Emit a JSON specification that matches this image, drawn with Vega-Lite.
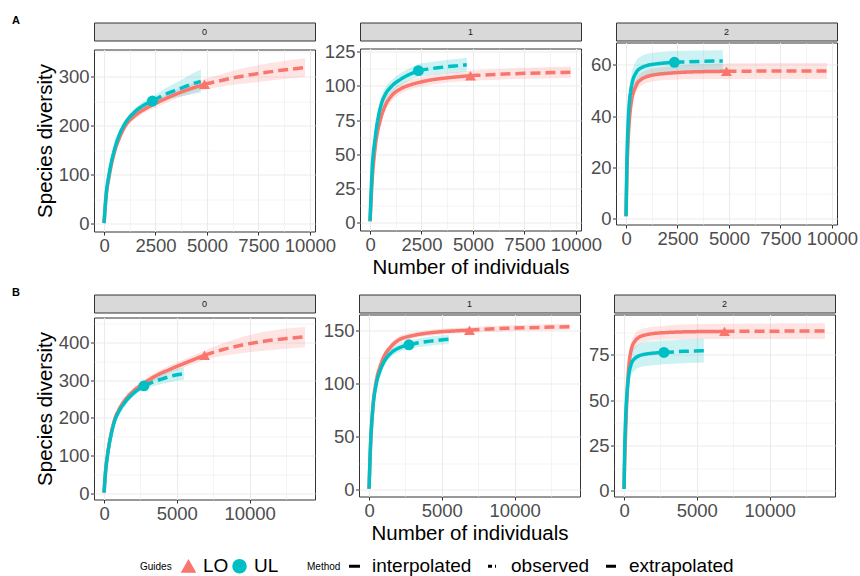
{
 "$schema": "https://vega.github.io/schema/vega-lite/v6.json",
 "autosize": {"type": "pad"},
 "padding": {"left": 12, "top": 14.5, "right": 5, "bottom": 0},
 "background": "white",
 "config": {
  "font": "Liberation Sans",
  "view": {"stroke": "#333333", "strokeWidth": 1},
  "axis": {"gridColor": "#EBEBEB", "domain": false, "tickColor": "#333333", "tickSize": 3.5, "tickWidth": 1, "labelColor": "#4D4D4D", "labelFontSize": 18.5, "labelPadding": 1.5, "titleFontSize": 20.5, "titleColor": "#000000", "titleFontWeight": "normal", "labelFlush": false, "labelOverlap": false, "titlePadding": 3},
  "axisX": {"titlePadding": 3},
  "legend": {"labelFontSize": 19, "labelColor": "#000000", "titleFontSize": 10, "titleFontWeight": "normal", "titleColor": "#000000", "symbolOpacity": 1},
  "title": {"fontSize": 11, "fontWeight": "bold", "color": "#000000"}
 },
 "datasets": {
  "curves": [
   {"row":"A","q":0,"Guides":"LO","Method":"interpolated","n":1,"est":1,"lo":1,"hi":1},
   {"row":"A","q":0,"Guides":"LO","Method":"interpolated","n":100,"est":55,"lo":52,"hi":58},
   {"row":"A","q":0,"Guides":"LO","Method":"interpolated","n":250,"est":97,"lo":93,"hi":101},
   {"row":"A","q":0,"Guides":"LO","Method":"interpolated","n":500,"est":145,"lo":140,"hi":150},
   {"row":"A","q":0,"Guides":"LO","Method":"interpolated","n":750,"est":175,"lo":169,"hi":181},
   {"row":"A","q":0,"Guides":"LO","Method":"interpolated","n":1000,"est":197,"lo":191,"hi":203},
   {"row":"A","q":0,"Guides":"LO","Method":"interpolated","n":1500,"est":220,"lo":213,"hi":227},
   {"row":"A","q":0,"Guides":"LO","Method":"interpolated","n":2000,"est":234,"lo":227,"hi":241},
   {"row":"A","q":0,"Guides":"LO","Method":"interpolated","n":2500,"est":245,"lo":237,"hi":253},
   {"row":"A","q":0,"Guides":"LO","Method":"interpolated","n":3000,"est":255,"lo":246,"hi":264},
   {"row":"A","q":0,"Guides":"LO","Method":"interpolated","n":3500,"est":264,"lo":255,"hi":273},
   {"row":"A","q":0,"Guides":"LO","Method":"interpolated","n":4000,"est":272,"lo":262,"hi":282},
   {"row":"A","q":0,"Guides":"LO","Method":"interpolated","n":4500,"est":279,"lo":269,"hi":289},
   {"row":"A","q":0,"Guides":"LO","Method":"interpolated","n":4880,"est":284,"lo":273,"hi":295},
   {"row":"A","q":0,"Guides":"LO","Method":"extrapolated","n":4880,"est":284,"lo":273,"hi":295},
   {"row":"A","q":0,"Guides":"LO","Method":"extrapolated","n":5500,"est":290,"lo":278,"hi":302},
   {"row":"A","q":0,"Guides":"LO","Method":"extrapolated","n":6500,"est":299,"lo":284,"hi":314},
   {"row":"A","q":0,"Guides":"LO","Method":"extrapolated","n":7500,"est":306,"lo":289,"hi":323},
   {"row":"A","q":0,"Guides":"LO","Method":"extrapolated","n":8500,"est":312,"lo":294,"hi":330},
   {"row":"A","q":0,"Guides":"LO","Method":"extrapolated","n":9760,"est":318,"lo":299,"hi":337},
   {"row":"A","q":0,"Guides":"UL","Method":"interpolated","n":1,"est":1,"lo":1,"hi":1},
   {"row":"A","q":0,"Guides":"UL","Method":"interpolated","n":100,"est":58,"lo":55,"hi":61},
   {"row":"A","q":0,"Guides":"UL","Method":"interpolated","n":250,"est":102,"lo":98,"hi":106},
   {"row":"A","q":0,"Guides":"UL","Method":"interpolated","n":500,"est":150,"lo":145,"hi":155},
   {"row":"A","q":0,"Guides":"UL","Method":"interpolated","n":750,"est":182,"lo":176,"hi":188},
   {"row":"A","q":0,"Guides":"UL","Method":"interpolated","n":1000,"est":203,"lo":197,"hi":209},
   {"row":"A","q":0,"Guides":"UL","Method":"interpolated","n":1500,"est":228,"lo":221,"hi":235},
   {"row":"A","q":0,"Guides":"UL","Method":"interpolated","n":2000,"est":243,"lo":235,"hi":251},
   {"row":"A","q":0,"Guides":"UL","Method":"interpolated","n":2350,"est":250,"lo":242,"hi":258},
   {"row":"A","q":0,"Guides":"UL","Method":"extrapolated","n":2350,"est":250,"lo":242,"hi":258},
   {"row":"A","q":0,"Guides":"UL","Method":"extrapolated","n":2800,"est":260,"lo":249,"hi":271},
   {"row":"A","q":0,"Guides":"UL","Method":"extrapolated","n":3300,"est":269,"lo":255,"hi":283},
   {"row":"A","q":0,"Guides":"UL","Method":"extrapolated","n":3800,"est":277,"lo":260,"hi":294},
   {"row":"A","q":0,"Guides":"UL","Method":"extrapolated","n":4300,"est":285,"lo":264,"hi":306},
   {"row":"A","q":0,"Guides":"UL","Method":"extrapolated","n":4700,"est":290,"lo":267,"hi":314},
   {"row":"A","q":0,"Guides":"LO","Method":"observed","n":4880,"est":284},
   {"row":"A","q":0,"Guides":"UL","Method":"observed","n":2350,"est":250},

   {"row":"A","q":1,"Guides":"LO","Method":"interpolated","n":1,"est":1,"lo":1,"hi":1},
   {"row":"A","q":1,"Guides":"LO","Method":"interpolated","n":100,"est":30,"lo":27,"hi":33},
   {"row":"A","q":1,"Guides":"LO","Method":"interpolated","n":250,"est":55,"lo":51,"hi":59},
   {"row":"A","q":1,"Guides":"LO","Method":"interpolated","n":500,"est":75,"lo":71,"hi":79},
   {"row":"A","q":1,"Guides":"LO","Method":"interpolated","n":750,"est":86,"lo":82,"hi":90},
   {"row":"A","q":1,"Guides":"LO","Method":"interpolated","n":1000,"est":92,"lo":88,"hi":96},
   {"row":"A","q":1,"Guides":"LO","Method":"interpolated","n":1500,"est":98,"lo":94.5,"hi":101.5},
   {"row":"A","q":1,"Guides":"LO","Method":"interpolated","n":2000,"est":101,"lo":97.5,"hi":104.5},
   {"row":"A","q":1,"Guides":"LO","Method":"interpolated","n":2500,"est":103,"lo":99.5,"hi":106.5},
   {"row":"A","q":1,"Guides":"LO","Method":"interpolated","n":3000,"est":104.5,"lo":101,"hi":108},
   {"row":"A","q":1,"Guides":"LO","Method":"interpolated","n":3500,"est":105.5,"lo":102,"hi":109},
   {"row":"A","q":1,"Guides":"LO","Method":"interpolated","n":4000,"est":106.3,"lo":102.8,"hi":109.8},
   {"row":"A","q":1,"Guides":"LO","Method":"interpolated","n":4500,"est":107,"lo":103.4,"hi":110.6},
   {"row":"A","q":1,"Guides":"LO","Method":"interpolated","n":4880,"est":107.5,"lo":103.8,"hi":111.2},
   {"row":"A","q":1,"Guides":"LO","Method":"extrapolated","n":4880,"est":107.5,"lo":103.8,"hi":111.2},
   {"row":"A","q":1,"Guides":"LO","Method":"extrapolated","n":5500,"est":108,"lo":104.2,"hi":111.8},
   {"row":"A","q":1,"Guides":"LO","Method":"extrapolated","n":6500,"est":108.7,"lo":104.8,"hi":112.6},
   {"row":"A","q":1,"Guides":"LO","Method":"extrapolated","n":7500,"est":109.2,"lo":105.2,"hi":113.2},
   {"row":"A","q":1,"Guides":"LO","Method":"extrapolated","n":8500,"est":109.6,"lo":105.5,"hi":113.7},
   {"row":"A","q":1,"Guides":"LO","Method":"extrapolated","n":9760,"est":110,"lo":105.8,"hi":114.2},
   {"row":"A","q":1,"Guides":"UL","Method":"interpolated","n":1,"est":1,"lo":1,"hi":1},
   {"row":"A","q":1,"Guides":"UL","Method":"interpolated","n":100,"est":38,"lo":34,"hi":42},
   {"row":"A","q":1,"Guides":"UL","Method":"interpolated","n":250,"est":62,"lo":57,"hi":67},
   {"row":"A","q":1,"Guides":"UL","Method":"interpolated","n":500,"est":84,"lo":79,"hi":89},
   {"row":"A","q":1,"Guides":"UL","Method":"interpolated","n":750,"est":94,"lo":89,"hi":99},
   {"row":"A","q":1,"Guides":"UL","Method":"interpolated","n":1000,"est":99,"lo":94.5,"hi":103.5},
   {"row":"A","q":1,"Guides":"UL","Method":"interpolated","n":1500,"est":105,"lo":100.5,"hi":109.5},
   {"row":"A","q":1,"Guides":"UL","Method":"interpolated","n":2000,"est":109,"lo":104.5,"hi":113.5},
   {"row":"A","q":1,"Guides":"UL","Method":"interpolated","n":2350,"est":111.2,"lo":106.5,"hi":115.9},
   {"row":"A","q":1,"Guides":"UL","Method":"extrapolated","n":2350,"est":111.2,"lo":106.5,"hi":115.9},
   {"row":"A","q":1,"Guides":"UL","Method":"extrapolated","n":2800,"est":112.3,"lo":107.5,"hi":117.1},
   {"row":"A","q":1,"Guides":"UL","Method":"extrapolated","n":3300,"est":113.3,"lo":108.4,"hi":118.2},
   {"row":"A","q":1,"Guides":"UL","Method":"extrapolated","n":3800,"est":114.2,"lo":109.2,"hi":119.2},
   {"row":"A","q":1,"Guides":"UL","Method":"extrapolated","n":4300,"est":114.9,"lo":109.9,"hi":119.9},
   {"row":"A","q":1,"Guides":"UL","Method":"extrapolated","n":4700,"est":115.5,"lo":110.4,"hi":120.6},
   {"row":"A","q":1,"Guides":"LO","Method":"observed","n":4880,"est":107.5},
   {"row":"A","q":1,"Guides":"UL","Method":"observed","n":2350,"est":111.2},

   {"row":"A","q":2,"Guides":"LO","Method":"interpolated","n":1,"est":1,"lo":1,"hi":1},
   {"row":"A","q":2,"Guides":"LO","Method":"interpolated","n":50,"est":20,"lo":17,"hi":23},
   {"row":"A","q":2,"Guides":"LO","Method":"interpolated","n":100,"est":30,"lo":27,"hi":33},
   {"row":"A","q":2,"Guides":"LO","Method":"interpolated","n":250,"est":45,"lo":42,"hi":48},
   {"row":"A","q":2,"Guides":"LO","Method":"interpolated","n":500,"est":52,"lo":49.5,"hi":54.5},
   {"row":"A","q":2,"Guides":"LO","Method":"interpolated","n":750,"est":54.3,"lo":51.8,"hi":56.8},
   {"row":"A","q":2,"Guides":"LO","Method":"interpolated","n":1000,"est":55.3,"lo":52.8,"hi":57.8},
   {"row":"A","q":2,"Guides":"LO","Method":"interpolated","n":1500,"est":56.2,"lo":53.7,"hi":58.7},
   {"row":"A","q":2,"Guides":"LO","Method":"interpolated","n":2000,"est":56.6,"lo":54,"hi":59.2},
   {"row":"A","q":2,"Guides":"LO","Method":"interpolated","n":2500,"est":56.9,"lo":54.2,"hi":59.6},
   {"row":"A","q":2,"Guides":"LO","Method":"interpolated","n":3000,"est":57.1,"lo":54.3,"hi":59.9},
   {"row":"A","q":2,"Guides":"LO","Method":"interpolated","n":4000,"est":57.3,"lo":54.4,"hi":60.2},
   {"row":"A","q":2,"Guides":"LO","Method":"interpolated","n":4880,"est":57.4,"lo":54.4,"hi":60.4},
   {"row":"A","q":2,"Guides":"LO","Method":"extrapolated","n":4880,"est":57.4,"lo":54.4,"hi":60.4},
   {"row":"A","q":2,"Guides":"LO","Method":"extrapolated","n":6000,"est":57.45,"lo":54.4,"hi":60.5},
   {"row":"A","q":2,"Guides":"LO","Method":"extrapolated","n":7500,"est":57.5,"lo":54.4,"hi":60.6},
   {"row":"A","q":2,"Guides":"LO","Method":"extrapolated","n":9760,"est":57.5,"lo":54.4,"hi":60.6},
   {"row":"A","q":2,"Guides":"UL","Method":"interpolated","n":1,"est":1,"lo":1,"hi":1},
   {"row":"A","q":2,"Guides":"UL","Method":"interpolated","n":50,"est":25,"lo":21,"hi":29},
   {"row":"A","q":2,"Guides":"UL","Method":"interpolated","n":100,"est":37,"lo":33,"hi":41},
   {"row":"A","q":2,"Guides":"UL","Method":"interpolated","n":250,"est":51,"lo":46.5,"hi":55.5},
   {"row":"A","q":2,"Guides":"UL","Method":"interpolated","n":500,"est":57,"lo":52.5,"hi":61.5},
   {"row":"A","q":2,"Guides":"UL","Method":"interpolated","n":750,"est":58.8,"lo":54.3,"hi":63.3},
   {"row":"A","q":2,"Guides":"UL","Method":"interpolated","n":1000,"est":59.6,"lo":55,"hi":64.2},
   {"row":"A","q":2,"Guides":"UL","Method":"interpolated","n":1500,"est":60.3,"lo":55.8,"hi":64.8},
   {"row":"A","q":2,"Guides":"UL","Method":"interpolated","n":2000,"est":60.7,"lo":56.2,"hi":65.2},
   {"row":"A","q":2,"Guides":"UL","Method":"interpolated","n":2350,"est":60.9,"lo":56.5,"hi":65.3},
   {"row":"A","q":2,"Guides":"UL","Method":"extrapolated","n":2350,"est":60.9,"lo":56.5,"hi":65.3},
   {"row":"A","q":2,"Guides":"UL","Method":"extrapolated","n":3000,"est":61.1,"lo":56.8,"hi":65.4},
   {"row":"A","q":2,"Guides":"UL","Method":"extrapolated","n":3800,"est":61.3,"lo":57,"hi":65.5},
   {"row":"A","q":2,"Guides":"UL","Method":"extrapolated","n":4700,"est":61.4,"lo":57.2,"hi":65.6},
   {"row":"A","q":2,"Guides":"LO","Method":"observed","n":4880,"est":57.4},
   {"row":"A","q":2,"Guides":"UL","Method":"observed","n":2350,"est":60.9},

   {"row":"B","q":0,"Guides":"LO","Method":"interpolated","n":1,"est":1,"lo":1,"hi":1},
   {"row":"B","q":0,"Guides":"LO","Method":"interpolated","n":100,"est":55,"lo":51,"hi":59},
   {"row":"B","q":0,"Guides":"LO","Method":"interpolated","n":250,"est":105,"lo":100,"hi":110},
   {"row":"B","q":0,"Guides":"LO","Method":"interpolated","n":500,"est":160,"lo":154,"hi":166},
   {"row":"B","q":0,"Guides":"LO","Method":"interpolated","n":750,"est":198,"lo":191,"hi":205},
   {"row":"B","q":0,"Guides":"LO","Method":"interpolated","n":1000,"est":220,"lo":213,"hi":227},
   {"row":"B","q":0,"Guides":"LO","Method":"interpolated","n":1500,"est":250,"lo":242,"hi":258},
   {"row":"B","q":0,"Guides":"LO","Method":"interpolated","n":2000,"est":270,"lo":262,"hi":278},
   {"row":"B","q":0,"Guides":"LO","Method":"interpolated","n":2750,"est":292,"lo":283,"hi":301},
   {"row":"B","q":0,"Guides":"LO","Method":"interpolated","n":3500,"est":310,"lo":300,"hi":320},
   {"row":"B","q":0,"Guides":"LO","Method":"interpolated","n":4500,"est":328,"lo":318,"hi":338},
   {"row":"B","q":0,"Guides":"LO","Method":"interpolated","n":5500,"est":344,"lo":333,"hi":355},
   {"row":"B","q":0,"Guides":"LO","Method":"interpolated","n":6900,"est":366,"lo":354,"hi":378},
   {"row":"B","q":0,"Guides":"LO","Method":"extrapolated","n":6900,"est":366,"lo":354,"hi":378},
   {"row":"B","q":0,"Guides":"LO","Method":"extrapolated","n":8000,"est":379,"lo":363,"hi":395},
   {"row":"B","q":0,"Guides":"LO","Method":"extrapolated","n":9500,"est":393,"lo":372,"hi":414},
   {"row":"B","q":0,"Guides":"LO","Method":"extrapolated","n":11000,"est":403,"lo":378,"hi":428},
   {"row":"B","q":0,"Guides":"LO","Method":"extrapolated","n":12500,"est":410,"lo":383,"hi":437},
   {"row":"B","q":0,"Guides":"LO","Method":"extrapolated","n":13800,"est":415,"lo":387,"hi":441},
   {"row":"B","q":0,"Guides":"UL","Method":"interpolated","n":1,"est":1,"lo":1,"hi":1},
   {"row":"B","q":0,"Guides":"UL","Method":"interpolated","n":100,"est":55,"lo":51,"hi":59},
   {"row":"B","q":0,"Guides":"UL","Method":"interpolated","n":250,"est":103,"lo":98,"hi":108},
   {"row":"B","q":0,"Guides":"UL","Method":"interpolated","n":500,"est":157,"lo":151,"hi":163},
   {"row":"B","q":0,"Guides":"UL","Method":"interpolated","n":750,"est":194,"lo":187,"hi":201},
   {"row":"B","q":0,"Guides":"UL","Method":"interpolated","n":1000,"est":215,"lo":208,"hi":222},
   {"row":"B","q":0,"Guides":"UL","Method":"interpolated","n":1500,"est":244,"lo":236,"hi":252},
   {"row":"B","q":0,"Guides":"UL","Method":"interpolated","n":2000,"est":264,"lo":256,"hi":272},
   {"row":"B","q":0,"Guides":"UL","Method":"interpolated","n":2740,"est":284.5,"lo":276,"hi":293},
   {"row":"B","q":0,"Guides":"UL","Method":"extrapolated","n":2740,"est":284.5,"lo":276,"hi":293},
   {"row":"B","q":0,"Guides":"UL","Method":"extrapolated","n":3300,"est":294,"lo":283,"hi":305},
   {"row":"B","q":0,"Guides":"UL","Method":"extrapolated","n":3900,"est":302,"lo":289,"hi":315},
   {"row":"B","q":0,"Guides":"UL","Method":"extrapolated","n":4500,"est":309,"lo":294,"hi":324},
   {"row":"B","q":0,"Guides":"UL","Method":"extrapolated","n":5000,"est":314,"lo":298,"hi":329},
   {"row":"B","q":0,"Guides":"UL","Method":"extrapolated","n":5480,"est":317,"lo":300,"hi":333},
   {"row":"B","q":0,"Guides":"LO","Method":"observed","n":6900,"est":366},
   {"row":"B","q":0,"Guides":"UL","Method":"observed","n":2740,"est":284.5},

   {"row":"B","q":1,"Guides":"LO","Method":"interpolated","n":1,"est":1,"lo":1,"hi":1},
   {"row":"B","q":1,"Guides":"LO","Method":"interpolated","n":100,"est":40,"lo":37,"hi":43},
   {"row":"B","q":1,"Guides":"LO","Method":"interpolated","n":250,"est":75,"lo":71,"hi":79},
   {"row":"B","q":1,"Guides":"LO","Method":"interpolated","n":500,"est":103,"lo":99,"hi":107},
   {"row":"B","q":1,"Guides":"LO","Method":"interpolated","n":750,"est":116,"lo":112.5,"hi":119.5},
   {"row":"B","q":1,"Guides":"LO","Method":"interpolated","n":1000,"est":125,"lo":121.5,"hi":128.5},
   {"row":"B","q":1,"Guides":"LO","Method":"interpolated","n":1500,"est":135,"lo":131.5,"hi":138.5},
   {"row":"B","q":1,"Guides":"LO","Method":"interpolated","n":2000,"est":141,"lo":137.5,"hi":144.5},
   {"row":"B","q":1,"Guides":"LO","Method":"interpolated","n":3000,"est":145.5,"lo":142.5,"hi":148.5},
   {"row":"B","q":1,"Guides":"LO","Method":"interpolated","n":4000,"est":147.8,"lo":145,"hi":150.6},
   {"row":"B","q":1,"Guides":"LO","Method":"interpolated","n":5000,"est":149.2,"lo":146.5,"hi":151.9},
   {"row":"B","q":1,"Guides":"LO","Method":"interpolated","n":6000,"est":150,"lo":147.4,"hi":152.6},
   {"row":"B","q":1,"Guides":"LO","Method":"interpolated","n":6900,"est":150.6,"lo":148,"hi":153.2},
   {"row":"B","q":1,"Guides":"LO","Method":"extrapolated","n":6900,"est":150.6,"lo":148,"hi":153.2},
   {"row":"B","q":1,"Guides":"LO","Method":"extrapolated","n":8000,"est":151.5,"lo":148.8,"hi":154.2},
   {"row":"B","q":1,"Guides":"LO","Method":"extrapolated","n":9500,"est":152.4,"lo":149.6,"hi":155.2},
   {"row":"B","q":1,"Guides":"LO","Method":"extrapolated","n":11000,"est":153,"lo":150.2,"hi":155.8},
   {"row":"B","q":1,"Guides":"LO","Method":"extrapolated","n":12500,"est":153.5,"lo":150.6,"hi":156.4},
   {"row":"B","q":1,"Guides":"LO","Method":"extrapolated","n":13800,"est":153.8,"lo":151,"hi":156.6},
   {"row":"B","q":1,"Guides":"UL","Method":"interpolated","n":1,"est":1,"lo":1,"hi":1},
   {"row":"B","q":1,"Guides":"UL","Method":"interpolated","n":100,"est":42,"lo":39,"hi":45},
   {"row":"B","q":1,"Guides":"UL","Method":"interpolated","n":250,"est":75,"lo":71,"hi":79},
   {"row":"B","q":1,"Guides":"UL","Method":"interpolated","n":500,"est":100,"lo":96,"hi":104},
   {"row":"B","q":1,"Guides":"UL","Method":"interpolated","n":750,"est":112,"lo":108,"hi":116},
   {"row":"B","q":1,"Guides":"UL","Method":"interpolated","n":1000,"est":120,"lo":116,"hi":124},
   {"row":"B","q":1,"Guides":"UL","Method":"interpolated","n":1500,"est":129,"lo":125,"hi":133},
   {"row":"B","q":1,"Guides":"UL","Method":"interpolated","n":2000,"est":133.5,"lo":129.5,"hi":137.5},
   {"row":"B","q":1,"Guides":"UL","Method":"interpolated","n":2740,"est":136.8,"lo":132.8,"hi":140.8},
   {"row":"B","q":1,"Guides":"UL","Method":"extrapolated","n":2740,"est":136.8,"lo":132.8,"hi":140.8},
   {"row":"B","q":1,"Guides":"UL","Method":"extrapolated","n":3300,"est":138.5,"lo":134.4,"hi":142.6},
   {"row":"B","q":1,"Guides":"UL","Method":"extrapolated","n":4000,"est":140,"lo":135.8,"hi":144.2},
   {"row":"B","q":1,"Guides":"UL","Method":"extrapolated","n":4700,"est":141.1,"lo":136.8,"hi":145.4},
   {"row":"B","q":1,"Guides":"UL","Method":"extrapolated","n":5480,"est":142,"lo":137.6,"hi":146.4},
   {"row":"B","q":1,"Guides":"LO","Method":"observed","n":6900,"est":150.6},
   {"row":"B","q":1,"Guides":"UL","Method":"observed","n":2740,"est":136.8},

   {"row":"B","q":2,"Guides":"LO","Method":"interpolated","n":1,"est":1,"lo":1,"hi":1},
   {"row":"B","q":2,"Guides":"LO","Method":"interpolated","n":50,"est":18,"lo":15,"hi":21},
   {"row":"B","q":2,"Guides":"LO","Method":"interpolated","n":100,"est":30,"lo":27,"hi":33},
   {"row":"B","q":2,"Guides":"LO","Method":"interpolated","n":250,"est":60,"lo":56,"hi":64},
   {"row":"B","q":2,"Guides":"LO","Method":"interpolated","n":500,"est":78,"lo":74,"hi":82},
   {"row":"B","q":2,"Guides":"LO","Method":"interpolated","n":750,"est":82.5,"lo":78.5,"hi":86.5},
   {"row":"B","q":2,"Guides":"LO","Method":"interpolated","n":1000,"est":84.5,"lo":80.5,"hi":88.5},
   {"row":"B","q":2,"Guides":"LO","Method":"interpolated","n":1500,"est":86,"lo":82.2,"hi":89.8},
   {"row":"B","q":2,"Guides":"LO","Method":"interpolated","n":2000,"est":86.7,"lo":83,"hi":90.4},
   {"row":"B","q":2,"Guides":"LO","Method":"interpolated","n":3000,"est":87.3,"lo":83.4,"hi":91.2},
   {"row":"B","q":2,"Guides":"LO","Method":"interpolated","n":4500,"est":87.7,"lo":83.6,"hi":91.8},
   {"row":"B","q":2,"Guides":"LO","Method":"interpolated","n":6900,"est":87.9,"lo":83.7,"hi":92.1},
   {"row":"B","q":2,"Guides":"LO","Method":"extrapolated","n":6900,"est":87.9,"lo":83.7,"hi":92.1},
   {"row":"B","q":2,"Guides":"LO","Method":"extrapolated","n":8500,"est":88,"lo":83.7,"hi":92.3},
   {"row":"B","q":2,"Guides":"LO","Method":"extrapolated","n":10000,"est":88,"lo":83.7,"hi":92.3},
   {"row":"B","q":2,"Guides":"LO","Method":"extrapolated","n":12000,"est":88.1,"lo":83.7,"hi":92.4},
   {"row":"B","q":2,"Guides":"LO","Method":"extrapolated","n":13800,"est":88.1,"lo":83.7,"hi":92.4},
   {"row":"B","q":2,"Guides":"UL","Method":"interpolated","n":1,"est":1,"lo":1,"hi":1},
   {"row":"B","q":2,"Guides":"UL","Method":"interpolated","n":50,"est":25,"lo":21,"hi":29},
   {"row":"B","q":2,"Guides":"UL","Method":"interpolated","n":100,"est":38,"lo":33,"hi":43},
   {"row":"B","q":2,"Guides":"UL","Method":"interpolated","n":250,"est":58,"lo":52,"hi":64},
   {"row":"B","q":2,"Guides":"UL","Method":"interpolated","n":500,"est":70,"lo":64,"hi":76},
   {"row":"B","q":2,"Guides":"UL","Method":"interpolated","n":750,"est":73,"lo":66.5,"hi":79.5},
   {"row":"B","q":2,"Guides":"UL","Method":"interpolated","n":1000,"est":74.3,"lo":67.8,"hi":80.8},
   {"row":"B","q":2,"Guides":"UL","Method":"interpolated","n":1500,"est":75.4,"lo":68.8,"hi":82},
   {"row":"B","q":2,"Guides":"UL","Method":"interpolated","n":2000,"est":75.9,"lo":69.3,"hi":82.5},
   {"row":"B","q":2,"Guides":"UL","Method":"interpolated","n":2740,"est":76.3,"lo":69.8,"hi":82.9},
   {"row":"B","q":2,"Guides":"UL","Method":"extrapolated","n":2740,"est":76.3,"lo":69.8,"hi":82.9},
   {"row":"B","q":2,"Guides":"UL","Method":"extrapolated","n":3400,"est":76.6,"lo":70.1,"hi":83.2},
   {"row":"B","q":2,"Guides":"UL","Method":"extrapolated","n":4100,"est":76.9,"lo":70.4,"hi":83.5},
   {"row":"B","q":2,"Guides":"UL","Method":"extrapolated","n":4800,"est":77.1,"lo":70.6,"hi":83.7},
   {"row":"B","q":2,"Guides":"UL","Method":"extrapolated","n":5480,"est":77.2,"lo":70.8,"hi":83.8},
   {"row":"B","q":2,"Guides":"LO","Method":"observed","n":6900,"est":87.9},
   {"row":"B","q":2,"Guides":"UL","Method":"observed","n":2740,"est":76.3}
  ]
 },
 "spacing": 8,
 "vconcat": [
  {
   "title": {"text": "A", "anchor": "start", "frame": "group", "dx": -82, "dy": 13, "offset": 0, "baseline": "alphabetic"},
   "spacing": -14,
   "hconcat": [
    {"spacing": 0, "vconcat": [
     {"width": 221, "height": 18, "view": {"fill": "#D9D9D9", "stroke": "#333333"}, "data": {"values": [{"label": "0"}]}, "mark": {"type": "text", "fontSize": 9, "color": "#1A1A1A"}, "encoding": {"text": {"field": "label", "type": "nominal"}}},
     {"width": 221, "height": 182, "data": {"name": "curves"}, "transform": [{"filter": "datum.row === 'A' && datum.q === 0"}],
      "encoding": {
       "x": {"field": "n", "type": "quantitative", "scale": {"domain": [-487, 10248], "nice": false, "zero": false}, "axis": {"values": [0,1250,2500,3750,5000,6250,7500,8750,10000], "format": "d", "title": null, "labelExpr": "datum.value % 2500 === 0 ? datum.label : ''", "tickOpacity": {"condition": {"test": "datum.value % 2500 !== 0", "value": 0}, "value": 1}, "gridWidth": {"condition": {"test": "datum.value % 2500 !== 0", "value": 0.55}, "value": 1.1}}},
       "y": {"field": "est", "type": "quantitative", "scale": {"domain": [-16, 355], "nice": false, "zero": false}, "axis": {"values": [0,50,100,150,200,250,300,350], "format": "d", "title": "Species diversity", "labelExpr": "datum.value % 100 === 0 ? datum.label : ''", "tickOpacity": {"condition": {"test": "datum.value % 100 !== 0", "value": 0}, "value": 1}, "gridWidth": {"condition": {"test": "datum.value % 100 !== 0", "value": 0.55}, "value": 1.1}}}
      },
      "layer": [
       {"transform": [{"filter": "datum.Method !== 'observed'"}], "mark": {"type": "area", "opacity": 0.2, "interpolate": "monotone"},
        "encoding": {
         "y": {"field": "lo", "type": "quantitative", "scale": {"domain": [-16, 355], "nice": false, "zero": false}, "axis": {"values": [0,50,100,150,200,250,300,350], "format": "d", "title": "Species diversity", "labelExpr": "datum.value % 100 === 0 ? datum.label : ''", "tickOpacity": {"condition": {"test": "datum.value % 100 !== 0", "value": 0}, "value": 1}, "gridWidth": {"condition": {"test": "datum.value % 100 !== 0", "value": 0.55}, "value": 1.1}}},
         "y2": {"field": "hi"},
         "fill": {"field": "Guides", "type": "nominal", "scale": {"domain": ["LO", "UL"], "range": ["#F8766D", "#00BFC4"]}, "legend": {"title": "Guides", "orient": "none", "legendX": 46, "legendY": 534, "direction": "horizontal", "titleOrient": "left", "symbolSize": 170, "labelFontSize": 19, "titleFontSize": 10, "titleFontWeight": "normal", "columnPadding": 0, "labelOffset": 5, "titlePadding": 7}}}},
       {"transform": [{"filter": "datum.Method !== 'observed'"}], "mark": {"type": "line", "strokeWidth": 3.5, "interpolate": "monotone"},
        "encoding": {
         "stroke": {"field": "Guides", "type": "nominal", "scale": {"domain": ["LO", "UL"], "range": ["#F8766D", "#00BFC4"]}, "legend": {"title": "Guides", "orient": "none", "legendX": 46, "legendY": 534, "direction": "horizontal", "titleOrient": "left", "symbolSize": 170, "labelFontSize": 19, "titleFontSize": 10, "titleFontWeight": "normal", "columnPadding": 0, "labelOffset": 5, "titlePadding": 7}},
         "strokeDash": {"field": "Method", "type": "nominal", "scale": {"domain": ["interpolated", "observed", "extrapolated"], "range": [[1, 0], [4, 3, 1, 3], [10, 5]]}, "legend": {"title": "Method", "orient": "none", "legendX": 213, "legendY": 534, "direction": "horizontal", "titleOrient": "left", "symbolType": "stroke", "symbolStrokeColor": "#000000", "symbolStrokeWidth": 3, "symbolSize": 120, "labelFontSize": 19, "titleFontSize": 10, "titleFontWeight": "normal", "columnPadding": 10, "labelOffset": 8, "titlePadding": 4}}}},
       {"transform": [{"filter": "datum.Method === 'observed'"}], "mark": {"type": "point", "filled": true, "opacity": 1, "size": 120},
        "encoding": {
         "color": {"field": "Guides", "type": "nominal", "scale": {"domain": ["LO", "UL"], "range": ["#F8766D", "#00BFC4"]}, "legend": {"title": "Guides", "orient": "none", "legendX": 46, "legendY": 534, "direction": "horizontal", "titleOrient": "left", "symbolSize": 170, "labelFontSize": 19, "titleFontSize": 10, "titleFontWeight": "normal", "columnPadding": 0, "labelOffset": 5, "titlePadding": 7}},
         "shape": {"field": "Guides", "type": "nominal", "scale": {"domain": ["LO", "UL"], "range": ["triangle-up", "circle"]}, "legend": {"title": "Guides", "orient": "none", "legendX": 46, "legendY": 534, "direction": "horizontal", "titleOrient": "left", "symbolSize": 170, "labelFontSize": 19, "titleFontSize": 10, "titleFontWeight": "normal", "columnPadding": 0, "labelOffset": 5, "titlePadding": 7}}}}
      ]}
    ]},
    {"spacing": 0, "vconcat": [
     {"width": 221, "height": 18, "view": {"fill": "#D9D9D9", "stroke": "#333333"}, "data": {"values": [{"label": "1"}]}, "mark": {"type": "text", "fontSize": 9, "color": "#1A1A1A"}, "encoding": {"text": {"field": "label", "type": "nominal"}}},
     {"width": 221, "height": 182, "data": {"name": "curves"}, "transform": [{"filter": "datum.row === 'A' && datum.q === 1"}],
      "encoding": {
       "x": {"field": "n", "type": "quantitative", "scale": {"domain": [-487, 10248], "nice": false, "zero": false}, "axis": {"values": [0,1250,2500,3750,5000,6250,7500,8750,10000], "format": "d", "title": "Number of individuals", "labelExpr": "datum.value % 2500 === 0 ? datum.label : ''", "tickOpacity": {"condition": {"test": "datum.value % 2500 !== 0", "value": 0}, "value": 1}, "gridWidth": {"condition": {"test": "datum.value % 2500 !== 0", "value": 0.55}, "value": 1.1}}},
       "y": {"field": "est", "type": "quantitative", "scale": {"domain": [-5.8, 127.4], "nice": false, "zero": false}, "axis": {"values": [0,12.5,25,37.5,50,62.5,75,87.5,100,112.5,125], "format": "d", "title": null, "labelExpr": "datum.value % 25 === 0 ? datum.label : ''", "tickOpacity": {"condition": {"test": "datum.value % 25 !== 0", "value": 0}, "value": 1}, "gridWidth": {"condition": {"test": "datum.value % 25 !== 0", "value": 0.55}, "value": 1.1}}}
      },
      "layer": [
       {"transform": [{"filter": "datum.Method !== 'observed'"}], "mark": {"type": "area", "opacity": 0.2, "interpolate": "monotone"},
        "encoding": {
         "y": {"field": "lo", "type": "quantitative", "scale": {"domain": [-5.8, 127.4], "nice": false, "zero": false}, "axis": {"values": [0,12.5,25,37.5,50,62.5,75,87.5,100,112.5,125], "format": "d", "title": null, "labelExpr": "datum.value % 25 === 0 ? datum.label : ''", "tickOpacity": {"condition": {"test": "datum.value % 25 !== 0", "value": 0}, "value": 1}, "gridWidth": {"condition": {"test": "datum.value % 25 !== 0", "value": 0.55}, "value": 1.1}}},
         "y2": {"field": "hi"},
         "fill": {"field": "Guides", "type": "nominal", "scale": {"domain": ["LO", "UL"], "range": ["#F8766D", "#00BFC4"]}, "legend": {"title": "Guides", "orient": "none", "legendX": 46, "legendY": 534, "direction": "horizontal", "titleOrient": "left", "symbolSize": 170, "labelFontSize": 19, "titleFontSize": 10, "titleFontWeight": "normal", "columnPadding": 0, "labelOffset": 5, "titlePadding": 7}}}},
       {"transform": [{"filter": "datum.Method !== 'observed'"}], "mark": {"type": "line", "strokeWidth": 3.5, "interpolate": "monotone"},
        "encoding": {
         "stroke": {"field": "Guides", "type": "nominal", "scale": {"domain": ["LO", "UL"], "range": ["#F8766D", "#00BFC4"]}, "legend": {"title": "Guides", "orient": "none", "legendX": 46, "legendY": 534, "direction": "horizontal", "titleOrient": "left", "symbolSize": 170, "labelFontSize": 19, "titleFontSize": 10, "titleFontWeight": "normal", "columnPadding": 0, "labelOffset": 5, "titlePadding": 7}},
         "strokeDash": {"field": "Method", "type": "nominal", "scale": {"domain": ["interpolated", "observed", "extrapolated"], "range": [[1, 0], [4, 3, 1, 3], [10, 5]]}, "legend": {"title": "Method", "orient": "none", "legendX": 213, "legendY": 534, "direction": "horizontal", "titleOrient": "left", "symbolType": "stroke", "symbolStrokeColor": "#000000", "symbolStrokeWidth": 3, "symbolSize": 120, "labelFontSize": 19, "titleFontSize": 10, "titleFontWeight": "normal", "columnPadding": 10, "labelOffset": 8, "titlePadding": 4}}}},
       {"transform": [{"filter": "datum.Method === 'observed'"}], "mark": {"type": "point", "filled": true, "opacity": 1, "size": 120},
        "encoding": {
         "color": {"field": "Guides", "type": "nominal", "scale": {"domain": ["LO", "UL"], "range": ["#F8766D", "#00BFC4"]}, "legend": {"title": "Guides", "orient": "none", "legendX": 46, "legendY": 534, "direction": "horizontal", "titleOrient": "left", "symbolSize": 170, "labelFontSize": 19, "titleFontSize": 10, "titleFontWeight": "normal", "columnPadding": 0, "labelOffset": 5, "titlePadding": 7}},
         "shape": {"field": "Guides", "type": "nominal", "scale": {"domain": ["LO", "UL"], "range": ["triangle-up", "circle"]}, "legend": {"title": "Guides", "orient": "none", "legendX": 46, "legendY": 534, "direction": "horizontal", "titleOrient": "left", "symbolSize": 170, "labelFontSize": 19, "titleFontSize": 10, "titleFontWeight": "normal", "columnPadding": 0, "labelOffset": 5, "titlePadding": 7}}}}
      ]}
    ]},
    {"spacing": 0, "vconcat": [
     {"width": 221, "height": 18, "view": {"fill": "#D9D9D9", "stroke": "#333333"}, "data": {"values": [{"label": "2"}]}, "mark": {"type": "text", "fontSize": 9, "color": "#1A1A1A"}, "encoding": {"text": {"field": "label", "type": "nominal"}}},
     {"width": 221, "height": 182, "data": {"name": "curves"}, "transform": [{"filter": "datum.row === 'A' && datum.q === 2"}],
      "encoding": {
       "x": {"field": "n", "type": "quantitative", "scale": {"domain": [-487, 10248], "nice": false, "zero": false}, "axis": {"values": [0,1250,2500,3750,5000,6250,7500,8750,10000], "format": "d", "title": null, "labelExpr": "datum.value % 2500 === 0 ? datum.label : ''", "tickOpacity": {"condition": {"test": "datum.value % 2500 !== 0", "value": 0}, "value": 1}, "gridWidth": {"condition": {"test": "datum.value % 2500 !== 0", "value": 0.55}, "value": 1.1}}},
       "y": {"field": "est", "type": "quantitative", "scale": {"domain": [-2.2, 68.6], "nice": false, "zero": false}, "axis": {"values": [0,10,20,30,40,50,60], "format": "d", "title": null, "labelExpr": "datum.value % 20 === 0 ? datum.label : ''", "tickOpacity": {"condition": {"test": "datum.value % 20 !== 0", "value": 0}, "value": 1}, "gridWidth": {"condition": {"test": "datum.value % 20 !== 0", "value": 0.55}, "value": 1.1}}}
      },
      "layer": [
       {"transform": [{"filter": "datum.Method !== 'observed'"}], "mark": {"type": "area", "opacity": 0.2, "interpolate": "monotone"},
        "encoding": {
         "y": {"field": "lo", "type": "quantitative", "scale": {"domain": [-2.2, 68.6], "nice": false, "zero": false}, "axis": {"values": [0,10,20,30,40,50,60], "format": "d", "title": null, "labelExpr": "datum.value % 20 === 0 ? datum.label : ''", "tickOpacity": {"condition": {"test": "datum.value % 20 !== 0", "value": 0}, "value": 1}, "gridWidth": {"condition": {"test": "datum.value % 20 !== 0", "value": 0.55}, "value": 1.1}}},
         "y2": {"field": "hi"},
         "fill": {"field": "Guides", "type": "nominal", "scale": {"domain": ["LO", "UL"], "range": ["#F8766D", "#00BFC4"]}, "legend": {"title": "Guides", "orient": "none", "legendX": 46, "legendY": 534, "direction": "horizontal", "titleOrient": "left", "symbolSize": 170, "labelFontSize": 19, "titleFontSize": 10, "titleFontWeight": "normal", "columnPadding": 0, "labelOffset": 5, "titlePadding": 7}}}},
       {"transform": [{"filter": "datum.Method !== 'observed'"}], "mark": {"type": "line", "strokeWidth": 3.5, "interpolate": "monotone"},
        "encoding": {
         "stroke": {"field": "Guides", "type": "nominal", "scale": {"domain": ["LO", "UL"], "range": ["#F8766D", "#00BFC4"]}, "legend": {"title": "Guides", "orient": "none", "legendX": 46, "legendY": 534, "direction": "horizontal", "titleOrient": "left", "symbolSize": 170, "labelFontSize": 19, "titleFontSize": 10, "titleFontWeight": "normal", "columnPadding": 0, "labelOffset": 5, "titlePadding": 7}},
         "strokeDash": {"field": "Method", "type": "nominal", "scale": {"domain": ["interpolated", "observed", "extrapolated"], "range": [[1, 0], [4, 3, 1, 3], [10, 5]]}, "legend": {"title": "Method", "orient": "none", "legendX": 213, "legendY": 534, "direction": "horizontal", "titleOrient": "left", "symbolType": "stroke", "symbolStrokeColor": "#000000", "symbolStrokeWidth": 3, "symbolSize": 120, "labelFontSize": 19, "titleFontSize": 10, "titleFontWeight": "normal", "columnPadding": 10, "labelOffset": 8, "titlePadding": 4}}}},
       {"transform": [{"filter": "datum.Method === 'observed'"}], "mark": {"type": "point", "filled": true, "opacity": 1, "size": 120},
        "encoding": {
         "color": {"field": "Guides", "type": "nominal", "scale": {"domain": ["LO", "UL"], "range": ["#F8766D", "#00BFC4"]}, "legend": {"title": "Guides", "orient": "none", "legendX": 46, "legendY": 534, "direction": "horizontal", "titleOrient": "left", "symbolSize": 170, "labelFontSize": 19, "titleFontSize": 10, "titleFontWeight": "normal", "columnPadding": 0, "labelOffset": 5, "titlePadding": 7}},
         "shape": {"field": "Guides", "type": "nominal", "scale": {"domain": ["LO", "UL"], "range": ["triangle-up", "circle"]}, "legend": {"title": "Guides", "orient": "none", "legendX": 46, "legendY": 534, "direction": "horizontal", "titleOrient": "left", "symbolSize": 170, "labelFontSize": 19, "titleFontSize": 10, "titleFontWeight": "normal", "columnPadding": 0, "labelOffset": 5, "titlePadding": 7}}}}
      ]}
    ]}
   ]
  },
  {
   "title": {"text": "B", "anchor": "start", "frame": "group", "dx": -82, "dy": 13, "offset": 0, "baseline": "alphabetic"},
   "spacing": 6,
   "hconcat": [
    {"spacing": 0, "vconcat": [
     {"width": 221, "height": 18, "view": {"fill": "#D9D9D9", "stroke": "#333333"}, "data": {"values": [{"label": "0"}]}, "mark": {"type": "text", "fontSize": 9, "color": "#1A1A1A"}, "encoding": {"text": {"field": "label", "type": "nominal"}}},
     {"width": 221, "height": 182, "data": {"name": "curves"}, "transform": [{"filter": "datum.row === 'B' && datum.q === 0"}],
      "encoding": {
       "x": {"field": "n", "type": "quantitative", "scale": {"domain": [-689, 14490], "nice": false, "zero": false}, "axis": {"values": [0,2500,5000,7500,10000,12500], "format": "d", "title": null, "labelExpr": "datum.value % 5000 === 0 ? datum.label : ''", "tickOpacity": {"condition": {"test": "datum.value % 5000 !== 0", "value": 0}, "value": 1}, "gridWidth": {"condition": {"test": "datum.value % 5000 !== 0", "value": 0.55}, "value": 1.1}}},
       "y": {"field": "est", "type": "quantitative", "scale": {"domain": [-17, 466], "nice": false, "zero": false}, "axis": {"values": [0,50,100,150,200,250,300,350,400,450], "format": "d", "title": "Species diversity", "labelExpr": "datum.value % 100 === 0 ? datum.label : ''", "tickOpacity": {"condition": {"test": "datum.value % 100 !== 0", "value": 0}, "value": 1}, "gridWidth": {"condition": {"test": "datum.value % 100 !== 0", "value": 0.55}, "value": 1.1}}}
      },
      "layer": [
       {"transform": [{"filter": "datum.Method !== 'observed'"}], "mark": {"type": "area", "opacity": 0.2, "interpolate": "monotone"},
        "encoding": {
         "y": {"field": "lo", "type": "quantitative", "scale": {"domain": [-17, 466], "nice": false, "zero": false}, "axis": {"values": [0,50,100,150,200,250,300,350,400,450], "format": "d", "title": "Species diversity", "labelExpr": "datum.value % 100 === 0 ? datum.label : ''", "tickOpacity": {"condition": {"test": "datum.value % 100 !== 0", "value": 0}, "value": 1}, "gridWidth": {"condition": {"test": "datum.value % 100 !== 0", "value": 0.55}, "value": 1.1}}},
         "y2": {"field": "hi"},
         "fill": {"field": "Guides", "type": "nominal", "scale": {"domain": ["LO", "UL"], "range": ["#F8766D", "#00BFC4"]}, "legend": {"title": "Guides", "orient": "none", "legendX": 46, "legendY": 534, "direction": "horizontal", "titleOrient": "left", "symbolSize": 170, "labelFontSize": 19, "titleFontSize": 10, "titleFontWeight": "normal", "columnPadding": 0, "labelOffset": 5, "titlePadding": 7}}}},
       {"transform": [{"filter": "datum.Method !== 'observed'"}], "mark": {"type": "line", "strokeWidth": 3.5, "interpolate": "monotone"},
        "encoding": {
         "stroke": {"field": "Guides", "type": "nominal", "scale": {"domain": ["LO", "UL"], "range": ["#F8766D", "#00BFC4"]}, "legend": {"title": "Guides", "orient": "none", "legendX": 46, "legendY": 534, "direction": "horizontal", "titleOrient": "left", "symbolSize": 170, "labelFontSize": 19, "titleFontSize": 10, "titleFontWeight": "normal", "columnPadding": 0, "labelOffset": 5, "titlePadding": 7}},
         "strokeDash": {"field": "Method", "type": "nominal", "scale": {"domain": ["interpolated", "observed", "extrapolated"], "range": [[1, 0], [4, 3, 1, 3], [10, 5]]}, "legend": {"title": "Method", "orient": "none", "legendX": 213, "legendY": 534, "direction": "horizontal", "titleOrient": "left", "symbolType": "stroke", "symbolStrokeColor": "#000000", "symbolStrokeWidth": 3, "symbolSize": 120, "labelFontSize": 19, "titleFontSize": 10, "titleFontWeight": "normal", "columnPadding": 10, "labelOffset": 8, "titlePadding": 4}}}},
       {"transform": [{"filter": "datum.Method === 'observed'"}], "mark": {"type": "point", "filled": true, "opacity": 1, "size": 120},
        "encoding": {
         "color": {"field": "Guides", "type": "nominal", "scale": {"domain": ["LO", "UL"], "range": ["#F8766D", "#00BFC4"]}, "legend": {"title": "Guides", "orient": "none", "legendX": 46, "legendY": 534, "direction": "horizontal", "titleOrient": "left", "symbolSize": 170, "labelFontSize": 19, "titleFontSize": 10, "titleFontWeight": "normal", "columnPadding": 0, "labelOffset": 5, "titlePadding": 7}},
         "shape": {"field": "Guides", "type": "nominal", "scale": {"domain": ["LO", "UL"], "range": ["triangle-up", "circle"]}, "legend": {"title": "Guides", "orient": "none", "legendX": 46, "legendY": 534, "direction": "horizontal", "titleOrient": "left", "symbolSize": 170, "labelFontSize": 19, "titleFontSize": 10, "titleFontWeight": "normal", "columnPadding": 0, "labelOffset": 5, "titlePadding": 7}}}}
      ]}
    ]},
    {"spacing": 0, "vconcat": [
     {"width": 221, "height": 18, "view": {"fill": "#D9D9D9", "stroke": "#333333"}, "data": {"values": [{"label": "1"}]}, "mark": {"type": "text", "fontSize": 9, "color": "#1A1A1A"}, "encoding": {"text": {"field": "label", "type": "nominal"}}},
     {"width": 221, "height": 182, "data": {"name": "curves"}, "transform": [{"filter": "datum.row === 'B' && datum.q === 1"}],
      "encoding": {
       "x": {"field": "n", "type": "quantitative", "scale": {"domain": [-689, 14490], "nice": false, "zero": false}, "axis": {"values": [0,2500,5000,7500,10000,12500], "format": "d", "title": "Number of individuals", "labelExpr": "datum.value % 5000 === 0 ? datum.label : ''", "tickOpacity": {"condition": {"test": "datum.value % 5000 !== 0", "value": 0}, "value": 1}, "gridWidth": {"condition": {"test": "datum.value % 5000 !== 0", "value": 0.55}, "value": 1.1}}},
       "y": {"field": "est", "type": "quantitative", "scale": {"domain": [-6.3, 165.4], "nice": false, "zero": false}, "axis": {"values": [0,25,50,75,100,125,150], "format": "d", "title": null, "labelExpr": "datum.value % 50 === 0 ? datum.label : ''", "tickOpacity": {"condition": {"test": "datum.value % 50 !== 0", "value": 0}, "value": 1}, "gridWidth": {"condition": {"test": "datum.value % 50 !== 0", "value": 0.55}, "value": 1.1}}}
      },
      "layer": [
       {"transform": [{"filter": "datum.Method !== 'observed'"}], "mark": {"type": "area", "opacity": 0.2, "interpolate": "monotone"},
        "encoding": {
         "y": {"field": "lo", "type": "quantitative", "scale": {"domain": [-6.3, 165.4], "nice": false, "zero": false}, "axis": {"values": [0,25,50,75,100,125,150], "format": "d", "title": null, "labelExpr": "datum.value % 50 === 0 ? datum.label : ''", "tickOpacity": {"condition": {"test": "datum.value % 50 !== 0", "value": 0}, "value": 1}, "gridWidth": {"condition": {"test": "datum.value % 50 !== 0", "value": 0.55}, "value": 1.1}}},
         "y2": {"field": "hi"},
         "fill": {"field": "Guides", "type": "nominal", "scale": {"domain": ["LO", "UL"], "range": ["#F8766D", "#00BFC4"]}, "legend": {"title": "Guides", "orient": "none", "legendX": 46, "legendY": 534, "direction": "horizontal", "titleOrient": "left", "symbolSize": 170, "labelFontSize": 19, "titleFontSize": 10, "titleFontWeight": "normal", "columnPadding": 0, "labelOffset": 5, "titlePadding": 7}}}},
       {"transform": [{"filter": "datum.Method !== 'observed'"}], "mark": {"type": "line", "strokeWidth": 3.5, "interpolate": "monotone"},
        "encoding": {
         "stroke": {"field": "Guides", "type": "nominal", "scale": {"domain": ["LO", "UL"], "range": ["#F8766D", "#00BFC4"]}, "legend": {"title": "Guides", "orient": "none", "legendX": 46, "legendY": 534, "direction": "horizontal", "titleOrient": "left", "symbolSize": 170, "labelFontSize": 19, "titleFontSize": 10, "titleFontWeight": "normal", "columnPadding": 0, "labelOffset": 5, "titlePadding": 7}},
         "strokeDash": {"field": "Method", "type": "nominal", "scale": {"domain": ["interpolated", "observed", "extrapolated"], "range": [[1, 0], [4, 3, 1, 3], [10, 5]]}, "legend": {"title": "Method", "orient": "none", "legendX": 213, "legendY": 534, "direction": "horizontal", "titleOrient": "left", "symbolType": "stroke", "symbolStrokeColor": "#000000", "symbolStrokeWidth": 3, "symbolSize": 120, "labelFontSize": 19, "titleFontSize": 10, "titleFontWeight": "normal", "columnPadding": 10, "labelOffset": 8, "titlePadding": 4}}}},
       {"transform": [{"filter": "datum.Method === 'observed'"}], "mark": {"type": "point", "filled": true, "opacity": 1, "size": 120},
        "encoding": {
         "color": {"field": "Guides", "type": "nominal", "scale": {"domain": ["LO", "UL"], "range": ["#F8766D", "#00BFC4"]}, "legend": {"title": "Guides", "orient": "none", "legendX": 46, "legendY": 534, "direction": "horizontal", "titleOrient": "left", "symbolSize": 170, "labelFontSize": 19, "titleFontSize": 10, "titleFontWeight": "normal", "columnPadding": 0, "labelOffset": 5, "titlePadding": 7}},
         "shape": {"field": "Guides", "type": "nominal", "scale": {"domain": ["LO", "UL"], "range": ["triangle-up", "circle"]}, "legend": {"title": "Guides", "orient": "none", "legendX": 46, "legendY": 534, "direction": "horizontal", "titleOrient": "left", "symbolSize": 170, "labelFontSize": 19, "titleFontSize": 10, "titleFontWeight": "normal", "columnPadding": 0, "labelOffset": 5, "titlePadding": 7}}}}
      ]}
    ]},
    {"spacing": 0, "vconcat": [
     {"width": 221, "height": 18, "view": {"fill": "#D9D9D9", "stroke": "#333333"}, "data": {"values": [{"label": "2"}]}, "mark": {"type": "text", "fontSize": 9, "color": "#1A1A1A"}, "encoding": {"text": {"field": "label", "type": "nominal"}}},
     {"width": 221, "height": 182, "data": {"name": "curves"}, "transform": [{"filter": "datum.row === 'B' && datum.q === 2"}],
      "encoding": {
       "x": {"field": "n", "type": "quantitative", "scale": {"domain": [-689, 14490], "nice": false, "zero": false}, "axis": {"values": [0,2500,5000,7500,10000,12500], "format": "d", "title": null, "labelExpr": "datum.value % 5000 === 0 ? datum.label : ''", "tickOpacity": {"condition": {"test": "datum.value % 5000 !== 0", "value": 0}, "value": 1}, "gridWidth": {"condition": {"test": "datum.value % 5000 !== 0", "value": 0.55}, "value": 1.1}}},
       "y": {"field": "est", "type": "quantitative", "scale": {"domain": [-3.1, 97.2], "nice": false, "zero": false}, "axis": {"values": [0,12.5,25,37.5,50,62.5,75,87.5], "format": "d", "title": null, "labelExpr": "datum.value % 25 === 0 ? datum.label : ''", "tickOpacity": {"condition": {"test": "datum.value % 25 !== 0", "value": 0}, "value": 1}, "gridWidth": {"condition": {"test": "datum.value % 25 !== 0", "value": 0.55}, "value": 1.1}}}
      },
      "layer": [
       {"transform": [{"filter": "datum.Method !== 'observed'"}], "mark": {"type": "area", "opacity": 0.2, "interpolate": "monotone"},
        "encoding": {
         "y": {"field": "lo", "type": "quantitative", "scale": {"domain": [-3.1, 97.2], "nice": false, "zero": false}, "axis": {"values": [0,12.5,25,37.5,50,62.5,75,87.5], "format": "d", "title": null, "labelExpr": "datum.value % 25 === 0 ? datum.label : ''", "tickOpacity": {"condition": {"test": "datum.value % 25 !== 0", "value": 0}, "value": 1}, "gridWidth": {"condition": {"test": "datum.value % 25 !== 0", "value": 0.55}, "value": 1.1}}},
         "y2": {"field": "hi"},
         "fill": {"field": "Guides", "type": "nominal", "scale": {"domain": ["LO", "UL"], "range": ["#F8766D", "#00BFC4"]}, "legend": {"title": "Guides", "orient": "none", "legendX": 46, "legendY": 534, "direction": "horizontal", "titleOrient": "left", "symbolSize": 170, "labelFontSize": 19, "titleFontSize": 10, "titleFontWeight": "normal", "columnPadding": 0, "labelOffset": 5, "titlePadding": 7}}}},
       {"transform": [{"filter": "datum.Method !== 'observed'"}], "mark": {"type": "line", "strokeWidth": 3.5, "interpolate": "monotone"},
        "encoding": {
         "stroke": {"field": "Guides", "type": "nominal", "scale": {"domain": ["LO", "UL"], "range": ["#F8766D", "#00BFC4"]}, "legend": {"title": "Guides", "orient": "none", "legendX": 46, "legendY": 534, "direction": "horizontal", "titleOrient": "left", "symbolSize": 170, "labelFontSize": 19, "titleFontSize": 10, "titleFontWeight": "normal", "columnPadding": 0, "labelOffset": 5, "titlePadding": 7}},
         "strokeDash": {"field": "Method", "type": "nominal", "scale": {"domain": ["interpolated", "observed", "extrapolated"], "range": [[1, 0], [4, 3, 1, 3], [10, 5]]}, "legend": {"title": "Method", "orient": "none", "legendX": 213, "legendY": 534, "direction": "horizontal", "titleOrient": "left", "symbolType": "stroke", "symbolStrokeColor": "#000000", "symbolStrokeWidth": 3, "symbolSize": 120, "labelFontSize": 19, "titleFontSize": 10, "titleFontWeight": "normal", "columnPadding": 10, "labelOffset": 8, "titlePadding": 4}}}},
       {"transform": [{"filter": "datum.Method === 'observed'"}], "mark": {"type": "point", "filled": true, "opacity": 1, "size": 120},
        "encoding": {
         "color": {"field": "Guides", "type": "nominal", "scale": {"domain": ["LO", "UL"], "range": ["#F8766D", "#00BFC4"]}, "legend": {"title": "Guides", "orient": "none", "legendX": 46, "legendY": 534, "direction": "horizontal", "titleOrient": "left", "symbolSize": 170, "labelFontSize": 19, "titleFontSize": 10, "titleFontWeight": "normal", "columnPadding": 0, "labelOffset": 5, "titlePadding": 7}},
         "shape": {"field": "Guides", "type": "nominal", "scale": {"domain": ["LO", "UL"], "range": ["triangle-up", "circle"]}, "legend": {"title": "Guides", "orient": "none", "legendX": 46, "legendY": 534, "direction": "horizontal", "titleOrient": "left", "symbolSize": 170, "labelFontSize": 19, "titleFontSize": 10, "titleFontWeight": "normal", "columnPadding": 0, "labelOffset": 5, "titlePadding": 7}}}}
      ]}
    ]}
   ]
  }
 ]
}
